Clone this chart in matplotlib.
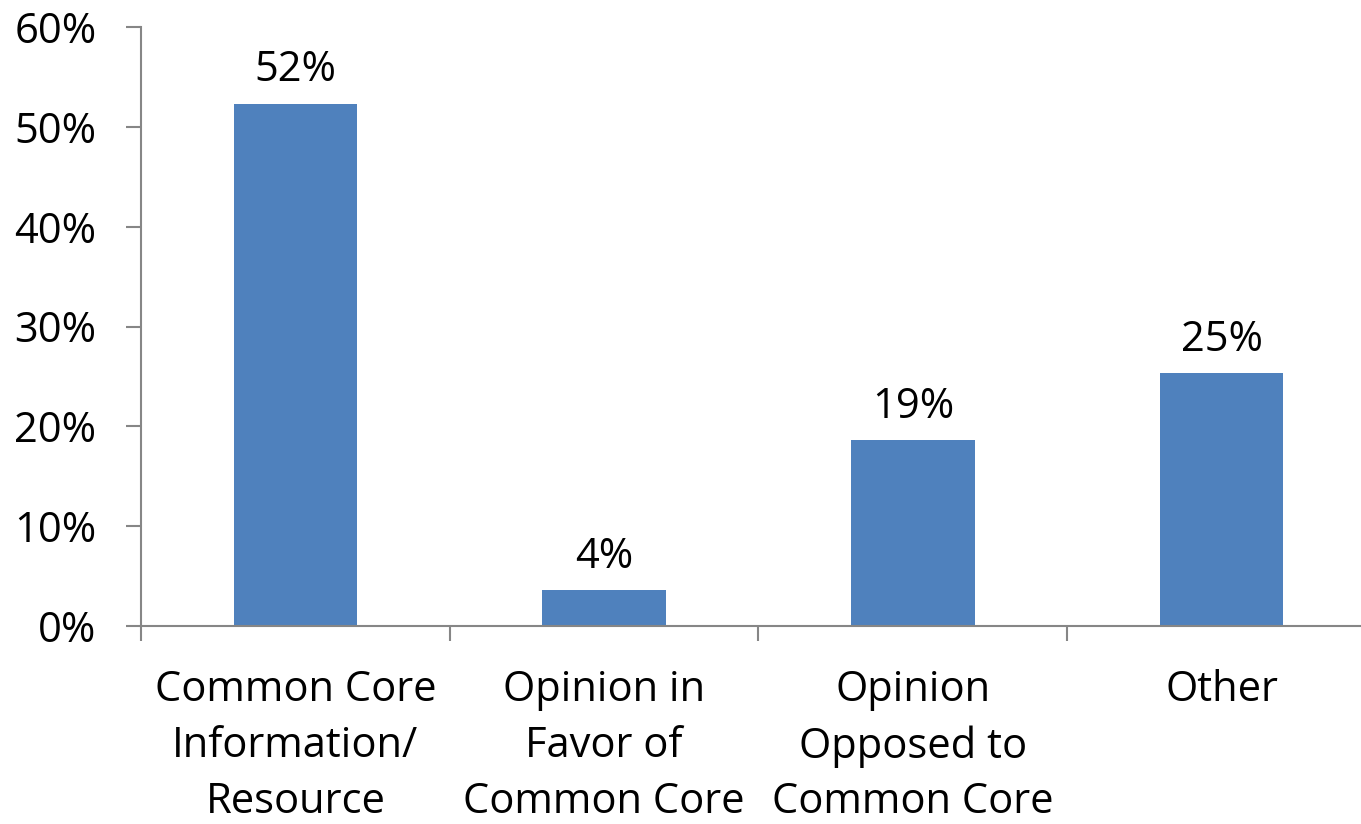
import matplotlib
matplotlib.use("Agg")
import matplotlib.pyplot as plt
from matplotlib.ticker import FixedLocator, PercentFormatter

categories = ["Common Core\nInformation/\nResource", "Opinion in\nFavor of\nCommon Core",
              "Opinion\nOpposed to\nCommon Core", "Other"]
values = [52.3, 3.6, 18.6, 25.3]
y_ticks = [0, 10, 20, 30, 40, 50, 60]

plt.rcParams['font.family'] = ['Open Sans', 'DejaVu Sans']
fig = plt.figure(figsize=(13.61, 8.24), dpi=100)
ax = fig.add_axes([141/1361, 198/824, 1235/1361, 599/824])
ax.set_xlim(-0.5, len(categories) - 0.5)
ax.set_ylim(0, 60)

x = list(range(len(categories)))
bars = ax.bar(x, values, width=0.4, color='#4F81BD', zorder=2)
for xi, v in zip(x, values):
    ax.annotate(f"{v:.0f}%", (xi, v), xytext=(0, 9), textcoords='offset points',
                ha='center', va='bottom', fontsize=30, color='black')

for s in ['top', 'right']:
    ax.spines[s].set_visible(False)
for s in ['left', 'bottom']:
    ax.spines[s].set_color('#868686')
    ax.spines[s].set_linewidth(1.5)

ax.set_yticks(y_ticks)
ax.yaxis.set_major_formatter(PercentFormatter(decimals=0))
ax.tick_params(axis='y', direction='out', length=11, width=1.5, color='#868686',
               labelsize=30, pad=21)

ax.xaxis.set_major_locator(FixedLocator([i - 0.5 for i in range(len(categories))]))
ax.xaxis.set_major_formatter(plt.NullFormatter())
ax.xaxis.set_minor_locator(FixedLocator(x))
ax.set_xticklabels(categories, minor=True)
ax.tick_params(axis='x', which='major', direction='out', length=11, width=1.5, color='#868686')
ax.tick_params(axis='x', which='minor', length=0, labelsize=30, pad=31)
for lab in ax.get_xticklabels(minor=True):
    lab.set_linespacing(1.43)

fig.savefig("out.png", dpi=100)
